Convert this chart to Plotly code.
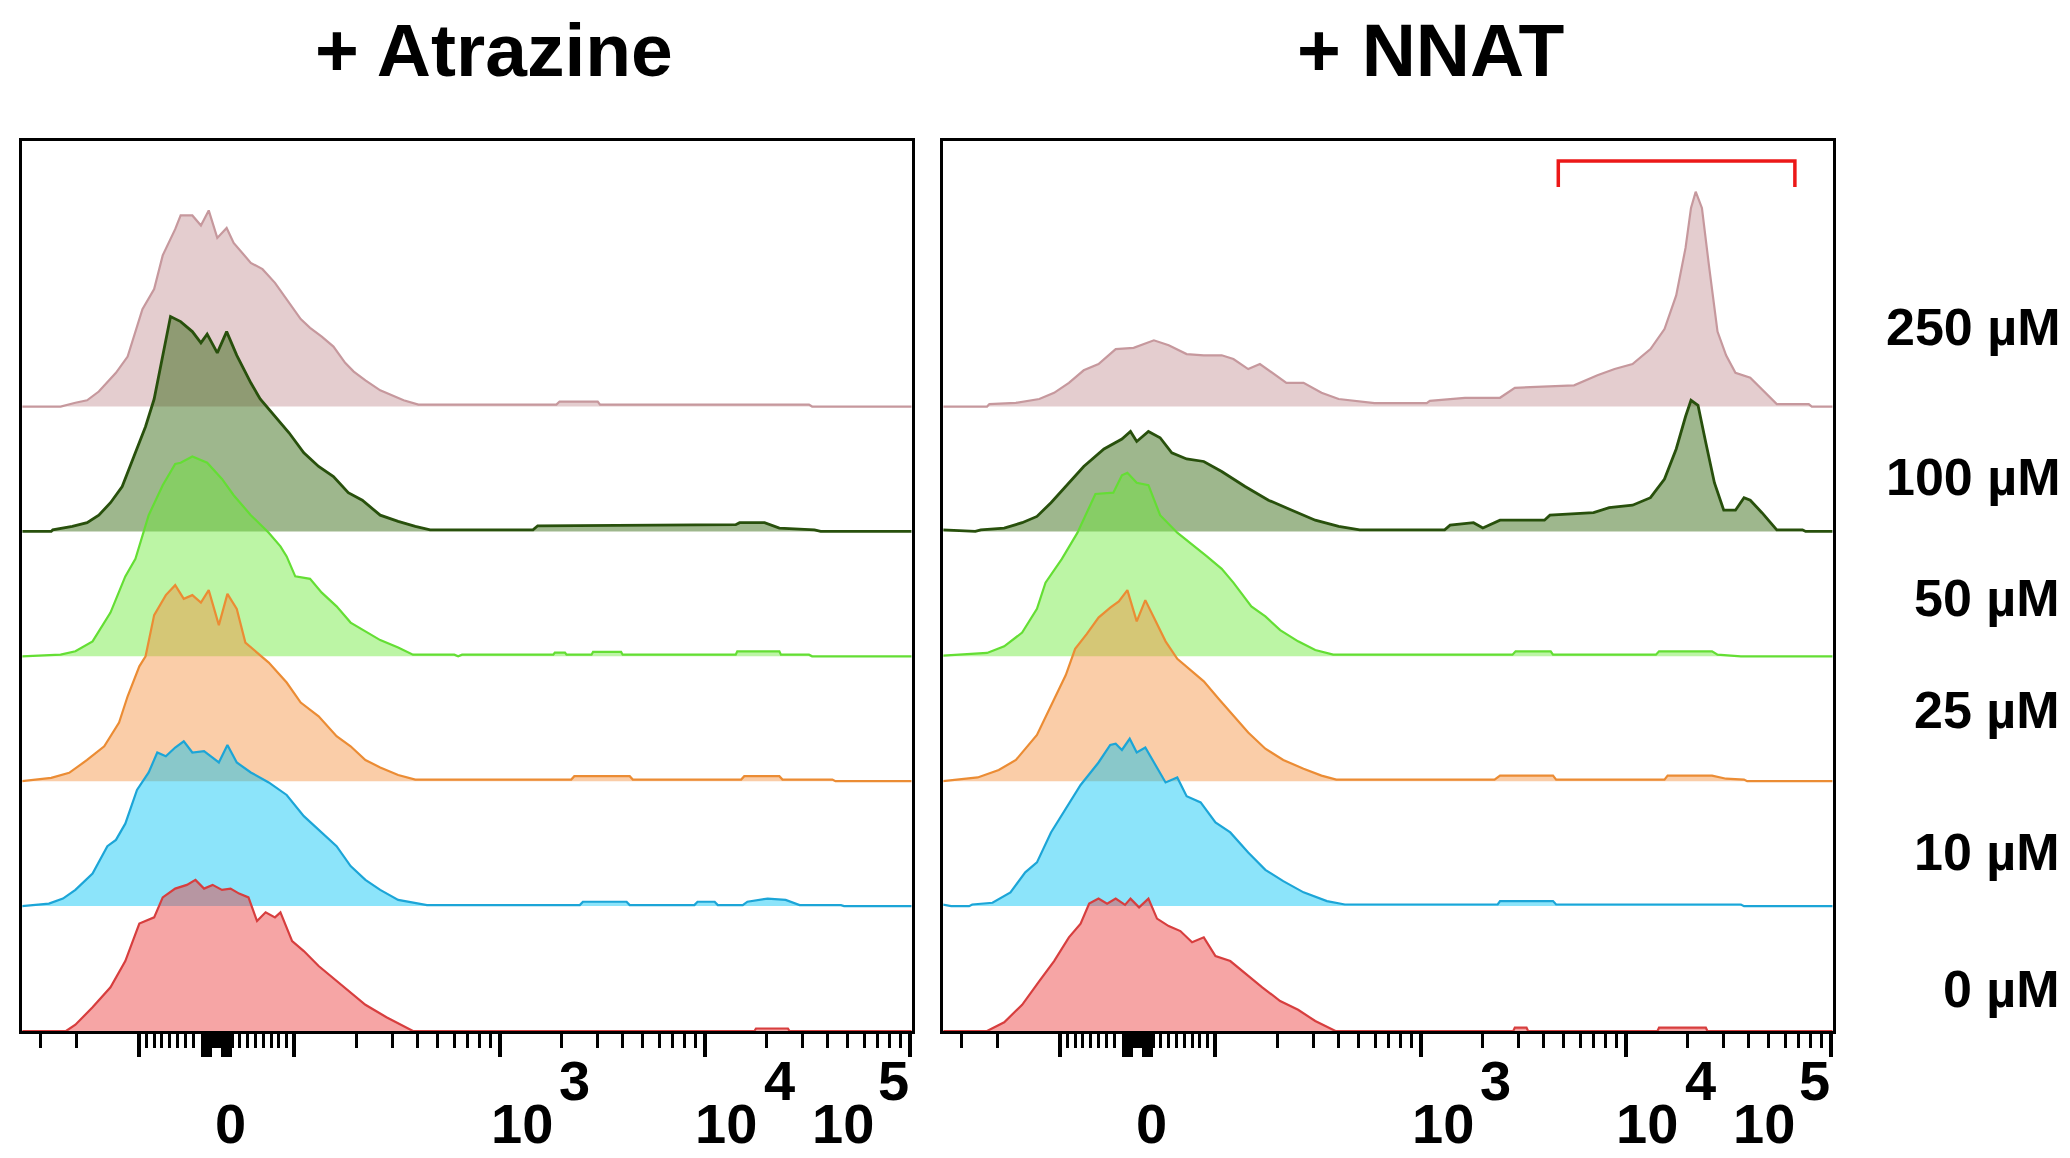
import math
import plotly.graph_objects as go

# ---------------------------------------------------------------------------
# Flow cytometry histograms (staggered overlay), normalised counts per sample.
# Each series: (display channel, count) pairs along the biexponential scale.
# ---------------------------------------------------------------------------
CONCENTRATIONS = ["0 µM", "10 µM", "25 µM", "50 µM", "100 µM", "250 µM"]
PANEL_TITLES = ["+ Atrazine", "+ NNAT"]

ATZ_0 = [(-2.50, 0), (-1.93, 0), (-1.81, 5), (-1.59, 19), (-1.36, 35), (-1.17, 56), (-0.99, 86),
         (-0.80, 91), (-0.69, 107), (-0.53, 114), (-0.38, 117), (-0.27, 121), (-0.16, 114),
         (-0.05, 117), (0.07, 113), (0.18, 114), (0.29, 110), (0.41, 107), (0.52, 88), (0.63, 95),
         (0.75, 91), (0.82, 95), (0.97, 72), (1.12, 64), (1.31, 52), (1.54, 40), (1.72, 31),
         (1.91, 21), (2.18, 11), (2.48, 1.3), (2.52, 0), (6.90, 0), (6.92, 2), (7.33, 2),
         (7.35, 0), (8.92, 0)]
ATZ_10 = [(-2.50, 0), (-2.15, 2), (-1.97, 6), (-1.81, 13), (-1.59, 26), (-1.40, 48), (-1.29, 53),
          (-1.17, 66), (-1.02, 93), (-0.87, 107), (-0.76, 123), (-0.65, 120), (-0.53, 127),
          (-0.42, 132), (-0.31, 123), (-0.16, 124), (0.03, 115), (0.14, 129), (0.26, 115),
          (0.44, 107), (0.67, 99), (0.90, 89), (1.12, 72), (1.31, 61), (1.54, 48), (1.72, 32),
          (1.91, 21), (2.10, 13), (2.33, 5), (2.70, 0.8), (4.66, 0.8), (4.70, 3.5), (5.26, 3.5),
          (5.30, 0.8), (6.13, 0.8), (6.17, 3.5), (6.39, 3.5), (6.43, 0.8), (6.75, 0.8), (6.81, 3.5),
          (7.07, 6), (7.30, 5), (7.48, 0.8), (8.01, 0.8), (8.05, 0), (8.92, 0)]
ATZ_25 = [(-2.50, 0), (-2.12, 2.7), (-1.89, 6.7), (-1.66, 17), (-1.44, 28), (-1.25, 47),
          (-1.14, 68), (-0.99, 92), (-0.91, 100), (-0.80, 133), (-0.65, 149), (-0.53, 157),
          (-0.42, 146), (-0.31, 149), (-0.20, 143), (-0.10, 153), (0.03, 125), (0.14, 150),
          (0.26, 138), (0.37, 111), (0.52, 103), (0.67, 95), (0.90, 79), (1.08, 63), (1.31, 52),
          (1.54, 36), (1.72, 28), (1.91, 17), (2.10, 11), (2.33, 5), (2.55, 1.3), (4.55, 1.3),
          (4.59, 4), (5.30, 4), (5.34, 1.3), (6.73, 1.3), (6.77, 4), (7.22, 4), (7.26, 1.3),
          (7.90, 1.3), (7.94, 0), (8.92, 0)]
ATZ_50 = [(-2.50, 0), (-2.00, 1.3), (-1.81, 4), (-1.59, 12), (-1.36, 35), (-1.17, 64), (-1.04, 78),
          (-0.87, 113), (-0.69, 137), (-0.53, 154), (-0.46, 155), (-0.31, 160), (-0.12, 155),
          (0.07, 142), (0.22, 129), (0.44, 113), (0.67, 99), (0.82, 88), (0.90, 80), (1.01, 64),
          (1.20, 62), (1.35, 51), (1.54, 40), (1.72, 27), (1.91, 20), (2.10, 13), (2.33, 7),
          (2.52, 1.3), (3.05, 1.3), (3.10, 0), (3.15, 1.3), (4.32, 1.3), (4.34, 3), (4.47, 3),
          (4.49, 1.3), (4.81, 1.3), (4.83, 3.5), (5.19, 3.5), (5.21, 1.3), (6.66, 1.3), (6.68, 4),
          (7.22, 4), (7.24, 1.3), (7.60, 1.3), (7.64, 0), (8.92, 0)]
ATZ_100 = [(-2.50, 0), (-2.12, 0), (-2.10, 1.3), (-1.85, 4), (-1.66, 7), (-1.51, 13), (-1.36, 23),
           (-1.21, 36), (-1.06, 60), (-0.91, 84), (-0.80, 106), (-0.69, 141), (-0.59, 172),
           (-0.46, 168), (-0.31, 160), (-0.20, 151), (-0.12, 158), (0.01, 143), (0.13, 160),
           (0.26, 141), (0.44, 119), (0.56, 106), (0.75, 92), (0.93, 79), (1.12, 63), (1.31, 52),
           (1.50, 44), (1.69, 31), (1.87, 25), (2.10, 13), (2.33, 8), (2.55, 4), (2.74, 1.3),
           (4.06, 1.3), (4.12, 4.5), (6.66, 5.4), (6.71, 7), (7.03, 7), (7.22, 2.7), (7.67, 1.3),
           (7.75, 0), (8.92, 0)]
ATZ_250 = [(-2.50, 0), (-2.00, 0), (-1.81, 3), (-1.66, 5), (-1.51, 12), (-1.29, 27), (-1.14, 40),
           (-0.95, 78), (-0.80, 94), (-0.69, 121), (-0.53, 142), (-0.46, 153), (-0.31, 153),
           (-0.20, 145), (-0.10, 157), (0.01, 135), (0.13, 143), (0.22, 131), (0.44, 115),
           (0.59, 110), (0.75, 99), (0.90, 86), (1.08, 70), (1.20, 63), (1.35, 56), (1.50, 48),
           (1.65, 35), (1.76, 28), (1.91, 21), (2.10, 13), (2.25, 9), (2.40, 5), (2.59, 1.5),
           (4.36, 1.5), (4.40, 4), (4.89, 4), (4.92, 1.5), (7.60, 1.5), (7.64, 0), (8.92, 0)]

NNAT_0 = [(-2.50, 0), (-1.93, 0), (-1.71, 7), (-1.48, 21), (-1.26, 40), (-1.07, 56), (-0.88, 75),
          (-0.73, 86), (-0.62, 102), (-0.50, 106), (-0.39, 102), (-0.28, 106), (-0.16, 101),
          (-0.09, 106), (0.02, 99), (0.14, 106), (0.25, 90), (0.40, 84), (0.55, 80), (0.70, 71),
          (0.85, 75), (1.00, 60), (1.19, 56), (1.38, 46), (1.60, 35), (1.83, 24), (2.06, 17),
          (2.28, 8), (2.51, 1.3), (2.54, 0), (4.82, 0), (4.84, 2.7), (4.99, 2.7), (5.01, 0),
          (6.67, 0), (6.69, 2.7), (7.29, 2.7), (7.31, 0), (8.92, 0)]
NNAT_10 = [(-2.50, 1.3), (-2.39, 0), (-2.16, 0), (-2.12, 1.3), (-1.86, 2.7), (-1.63, 11),
           (-1.44, 27), (-1.29, 35), (-1.11, 59), (-0.92, 78), (-0.73, 97), (-0.50, 115),
           (-0.35, 129), (-0.28, 130), (-0.20, 125), (-0.10, 134), (-0.01, 123), (0.10, 127),
           (0.21, 115), (0.36, 99), (0.51, 103), (0.63, 88), (0.81, 83), (1.00, 67), (1.19, 59),
           (1.42, 43), (1.64, 29), (1.87, 20), (2.13, 11), (2.43, 4), (2.66, 1.3), (4.62, 1.3),
           (4.65, 4), (5.33, 4), (5.37, 1.3), (7.74, 1.3), (7.78, 0), (8.92, 0)]
NNAT_25 = [(-2.50, 0), (-2.05, 3), (-1.78, 9), (-1.56, 17), (-1.29, 37), (-1.07, 66), (-0.92, 85),
           (-0.80, 106), (-0.65, 118), (-0.50, 131), (-0.35, 139), (-0.24, 144), (-0.13, 153),
           (-0.01, 128), (0.10, 145), (0.21, 131), (0.36, 112), (0.51, 98), (0.66, 90), (0.85, 80),
           (1.04, 66), (1.19, 55), (1.42, 39), (1.64, 26), (1.87, 17), (2.13, 10), (2.36, 4.5),
           (2.55, 1.3), (4.58, 1.3), (4.65, 4.5), (5.33, 4.5), (5.37, 1.3), (6.76, 1.3),
           (6.80, 4.5), (7.37, 4.5), (7.55, 2), (7.78, 1.3), (7.82, 0), (8.92, 0)]
NNAT_50 = [(-2.50, 0.5), (-1.93, 2.7), (-1.71, 8), (-1.48, 19), (-1.29, 38), (-1.18, 59),
           (-0.97, 78), (-0.77, 99), (-0.54, 130), (-0.31, 131), (-0.20, 145), (-0.13, 147),
           (-0.01, 139), (0.14, 137), (0.29, 113), (0.51, 99), (0.89, 80), (1.08, 70), (1.23, 59),
           (1.46, 40), (1.64, 32), (1.83, 21), (2.06, 12), (2.28, 5), (2.51, 1.3), (4.81, 1.3),
           (4.85, 4), (5.30, 4), (5.33, 1.3), (6.65, 1.3), (6.69, 4), (7.37, 4), (7.44, 1.3),
           (7.70, 0.5), (7.74, 0), (8.92, 0)]
NNAT_100 = [(-2.50, 1.3), (-2.08, 0), (-2.01, 1.3), (-1.71, 2.7), (-1.48, 7), (-1.29, 12),
            (-1.11, 23), (-0.88, 39), (-0.69, 52), (-0.43, 66), (-0.20, 74), (-0.09, 80),
            (-0.01, 72), (0.14, 80), (0.29, 75), (0.44, 63), (0.63, 58), (0.85, 56), (1.08, 48),
            (1.38, 36), (1.68, 25), (1.98, 17), (2.28, 9), (2.58, 4), (2.85, 1.3), (3.94, 1.3),
            (4.01, 5), (4.31, 7), (4.43, 2.7), (4.65, 9), (5.22, 9), (5.29, 13), (5.85, 15),
            (6.05, 19), (6.35, 21), (6.58, 27), (6.76, 42), (6.91, 66), (7.03, 92), (7.10, 105),
            (7.19, 101), (7.29, 71), (7.40, 39), (7.52, 17), (7.67, 17), (7.78, 27), (7.86, 25),
            (8.01, 15), (8.20, 1.3), (8.53, 1.3), (8.57, 0), (8.92, 0)]
NNAT_250 = [(-2.50, 0), (-1.93, 0), (-1.90, 2), (-1.56, 3), (-1.26, 6), (-1.07, 11), (-0.88, 19),
            (-0.69, 29), (-0.50, 34), (-0.28, 46), (-0.05, 47), (0.21, 53), (0.40, 49), (0.63, 42),
            (0.85, 41), (1.08, 41), (1.23, 38), (1.42, 30), (1.57, 34), (1.76, 26), (1.91, 19),
            (2.13, 19), (2.36, 11), (2.58, 6), (3.04, 2.7), (3.71, 2.7), (3.75, 4.5), (4.20, 7),
            (4.65, 7), (4.84, 15), (5.60, 17), (5.90, 25), (6.12, 30), (6.35, 34), (6.58, 46),
            (6.76, 62), (6.91, 89), (7.03, 127), (7.10, 159), (7.16, 172), (7.24, 159),
            (7.33, 113), (7.44, 60), (7.55, 41), (7.67, 27), (7.86, 23), (8.01, 14), (8.20, 2),
            (8.61, 2), (8.65, 0), (8.92, 0)]

PANELS = [
    [ATZ_0, ATZ_10, ATZ_25, ATZ_50, ATZ_100, ATZ_250],
    [NNAT_0, NNAT_10, NNAT_25, NNAT_50, NNAT_100, NNAT_250],
]

# Positive gate (fluorescence units) drawn on the NNAT panel
GATE = [4.7e3, 6.7e4]

# Axis decoration values (fluorescence units)
MAJOR_TICKS = [-100, -17, -14, -11, -8, 8, 11, 14, 17, 100, 1e3, 1e4, 1e5]
MINOR_TICKS = ([-300, -200] + [-v for v in range(30, 100, 10)] + [-4, 0, 4]
               + list(range(20, 100, 10)) + list(range(200, 1000, 100))
               + list(range(2000, 10000, 1000)) + list(range(20000, 100000, 10000)))

# ---------------------------------------------------------------------------
# Styling
# ---------------------------------------------------------------------------
FILL_COLORS = ["rgba(235,55,55,0.45)", "rgba(0,195,244,0.45)", "rgba(244,144,62,0.45)",
               "rgba(106,233,55,0.45)", "rgba(40,95,2,0.45)", "rgba(195,144,149,0.45)"]
LINE_COLORS = ["rgb(215,62,62)", "rgb(28,165,215)", "rgb(235,140,52)",
               "rgb(100,222,52)", "rgb(40,80,12)", "rgb(198,152,157)"]
LINE_WIDTHS = [2.2, 2.2, 2.2, 2.2, 2.8, 2.2]
ROW_STEP = 100          # vertical offset between stacked samples
DECADE = 2.63           # display width of one log decade
FONT = "Liberation Sans, Arial, Helvetica, sans-serif"

W, H = 2070, 1158
PANEL_X = [(22.4, 911.5), (943.4, 1832.5)]   # pixel extents of each frame
PANEL_Y = (141, 1031)
X_RANGE = [-2.49, 8.915]
Y_RANGE = [0, 712.6]


def biex(v):
    """Biexponential-style display transform: linear near zero, log beyond ±100."""
    if abs(v) <= 100:
        return v / 100.0
    s = 1 if v > 0 else -1
    return s * (1 + DECADE * math.log10(abs(v) / 100.0))


def bold_font(size):
    return dict(family=FONT, size=size, color="black", weight="bold")


fig = go.Figure()

for p, series_list in enumerate(PANELS):
    xa = "x" if p == 0 else "x2"
    ya = "y" if p == 0 else "y2"
    # draw the top row first so lower rows overlay it
    for i in reversed(range(len(series_list))):
        pts = series_list[i]
        off = i * ROW_STEP
        xs = [c for c, _ in pts]
        ys = [off + n for _, n in pts]
        fig.add_trace(go.Scatter(
            x=xs + [xs[-1], xs[0]], y=ys + [off, off], mode="lines", fill="toself",
            fillcolor=FILL_COLORS[i], line=dict(width=0, color="rgba(0,0,0,0)"),
            xaxis=xa, yaxis=ya, hoverinfo="skip", showlegend=False))
        fig.add_trace(go.Scatter(
            x=xs, y=ys, mode="lines", line=dict(color=LINE_COLORS[i], width=LINE_WIDTHS[i]),
            xaxis=xa, yaxis=ya, name=CONCENTRATIONS[i], showlegend=False))

major_vals = [biex(v) for v in MAJOR_TICKS]
minor_vals = [biex(v) for v in MINOR_TICKS]

for p in range(2):
    x0, x1 = PANEL_X[p]
    xdom = [x0 / W, x1 / W]
    ydom = [1 - PANEL_Y[1] / H, 1 - PANEL_Y[0] / H]
    xkey = "xaxis" if p == 0 else "xaxis2"
    ykey = "yaxis" if p == 0 else "yaxis2"
    fig.update_layout(**{
        xkey: dict(domain=xdom, range=X_RANGE, anchor="y" if p == 0 else "y2",
                   showline=True, mirror=True, linecolor="black", linewidth=3,
                   showgrid=False, zeroline=False, showticklabels=False,
                   ticks="outside", tickmode="array", tickvals=major_vals,
                   ticklen=23, tickwidth=4, tickcolor="black",
                   minor=dict(ticks="outside", tickmode="array", tickvals=minor_vals,
                              ticklen=14, tickwidth=2.5, tickcolor="black", showgrid=False)),
        ykey: dict(domain=ydom, range=Y_RANGE, anchor="x" if p == 0 else "x2",
                   showline=True, mirror=True, linecolor="black", linewidth=3,
                   showgrid=False, zeroline=False, showticklabels=False, ticks=""),
    })

annotations = []

# Panel titles
for p, title in enumerate(PANEL_TITLES):
    cx = [494, 1430][p]
    annotations.append(dict(text=title, x=cx / W, y=1 - 50 / H, xref="paper", yref="paper",
                            xanchor="center", yanchor="middle", showarrow=False,
                            font=bold_font(75)))

# Axis labels: "0", "10³", "10⁴", "10⁵" with raised exponents
BASE_LABELS = [("0", 0.18), ("10", 3.92), ("10", 6.54), ("10", 8.04)]
EXP_LABELS = [("3", 4.59), ("4", 7.22), ("5", 8.69)]
for p in range(2):
    xr = "x" if p == 0 else "x2"
    for txt, xc in BASE_LABELS:
        annotations.append(dict(text=txt, x=xc, y=1 - 1157 / H, xref=xr, yref="paper",
                                xanchor="center", yanchor="bottom", showarrow=False,
                                font=bold_font(56)))
    for txt, xc in EXP_LABELS:
        annotations.append(dict(text=txt, x=xc, y=1 - 1080 / H, xref=xr, yref="paper",
                                xanchor="center", yanchor="middle", showarrow=False,
                                font=bold_font(56)))

# Concentration labels on the right
LABEL_Y = [989, 852, 710, 598, 477, 327]
for lab, yy in zip(CONCENTRATIONS, LABEL_Y):
    annotations.append(dict(text=lab, x=2062 / W, y=1 - yy / H, xref="paper", yref="paper",
                            xanchor="right", yanchor="middle", showarrow=False,
                            font=bold_font(52)))

# Gate bracket over the NNAT positive population
g0, g1 = biex(GATE[0]), biex(GATE[1])
ytop, ybot = 1 - 161 / H, 1 - 187 / H
shapes = [dict(type="path", xref="x2", yref="paper",
               path=f"M {g0},{ybot} L {g0},{ytop} L {g1},{ytop} L {g1},{ybot}",
               line=dict(color="rgb(236,24,24)", width=3.5))]

fig.update_layout(
    width=W, height=H, margin=dict(l=0, r=0, t=0, b=0),
    paper_bgcolor="white", plot_bgcolor="white",
    annotations=annotations, shapes=shapes, showlegend=False,
    font=dict(family=FONT, color="black"),
)

fig.write_html("out.html")
